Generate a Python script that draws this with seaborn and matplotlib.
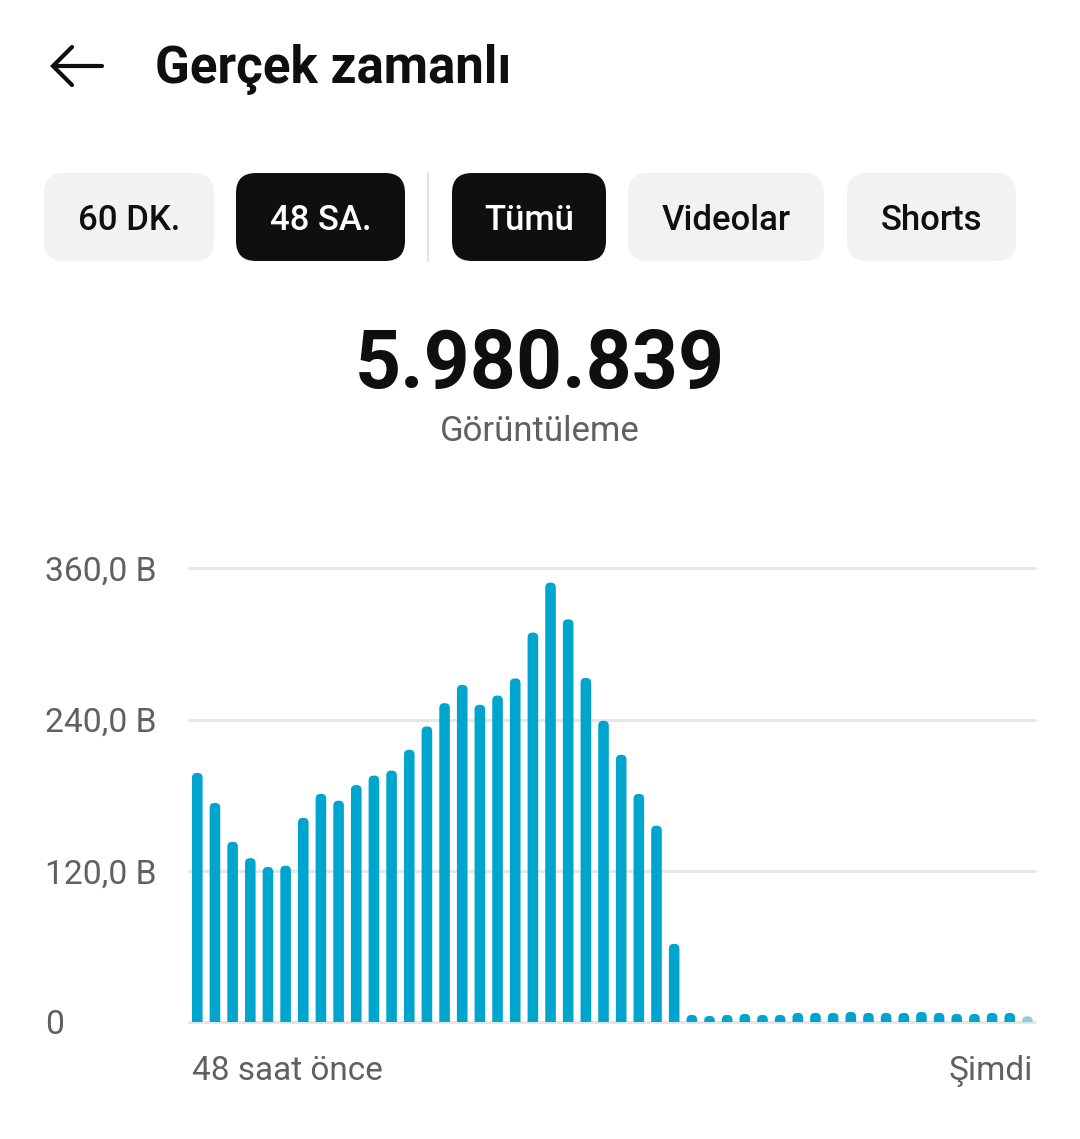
import matplotlib
matplotlib.use("Agg")
import matplotlib.pyplot as plt
import seaborn as sns
import pandas as pd
from matplotlib.patches import FancyBboxPatch

# ---------------- data ----------------
hours = list(range(-48, 0))  # hour slots, oldest first
views_k = [197.6, 173.8, 143.0, 130.0, 123.0, 124.0, 162.0, 181.0, 175.6, 188.0,
           195.5, 199.5, 216.0, 234.5, 253.0, 267.5, 251.7, 259.0, 272.6, 309.0,
           348.6, 319.5, 273.0, 239.0, 212.0, 181.0, 155.8, 62.0,
           5.6, 4.8, 5.6, 6.4, 5.6, 5.6, 7.2, 7.2, 7.2, 8.0,
           7.2, 7.2, 7.2, 8.0, 7.2, 6.4, 6.4, 7.2, 7.2, 4.5]
bar_colors = ["#00A5CD"] * 47 + ["#8FCCDD"]   # current (incomplete) hour is lighter
y_ticks = [0, 120, 240, 360]
y_tick_labels = ["0", "120,0 B", "240,0 B", "360,0 B"]
x_edge_labels = ["48 saat önce", "Şimdi"]
title_text = "Gerçek zamanlı"
buttons = ["60 DK.", "48 SA.", "Tümü", "Videolar", "Shorts"]
buttons_active = [False, True, True, False, False]
total_views = "5.980.839"
total_label = "Görüntüleme"

# ---------------- style ----------------
sns.set_theme(style="white")
plt.rcParams["font.family"] = ["Roboto", "DejaVu Sans"]

W, H = 1080, 1139
fig = plt.figure(figsize=(W / 100, H / 100), dpi=100)
fig.patch.set_facecolor("white")

DARK = "#0F0F0F"
GREY = "#606060"

# overlay in pixel coordinates for the app header
deco = fig.add_axes([0, 0, 1, 1])
deco.set_xlim(0, W)
deco.set_ylim(H, 0)
deco.axis("off")

# back arrow
deco.plot([54, 102], [66, 66], color=DARK, lw=3.0, solid_capstyle="round")
deco.plot([72, 53, 72], [47, 66, 85], color=DARK, lw=3.0,
          solid_capstyle="round", solid_joinstyle="miter")
deco.text(155, 83, title_text, fontsize=36.8, fontweight="bold", color=DARK,
          ha="left", va="baseline")

# filter chips
chip_x = [(44, 214), (236, 405), (452, 606), (628, 824), (847, 1016)]
for label, (x0, x1), active in zip(buttons, chip_x, buttons_active):
    deco.add_patch(FancyBboxPatch((x0, 173), x1 - x0, 88,
                                  boxstyle="round,pad=0,rounding_size=20",
                                  facecolor=DARK if active else "#F2F2F2",
                                  edgecolor="none"))
    deco.text((x0 + x1) / 2, 230, label, fontsize=25, fontweight="medium",
              color="white" if active else DARK, ha="center", va="baseline")
deco.plot([428, 428], [173, 261], color="#E3E3E3", lw=1.5)

# total
deco.text(540, 388, total_views, fontsize=58, fontweight="bold", color=DARK,
          ha="center", va="baseline")
deco.text(540, 441, total_label, fontsize=25, color=GREY,
          ha="center", va="baseline")

# ---------------- chart ----------------
ax = fig.add_axes([189 / W, (H - 1022) / H, 846 / W, 466.3 / H])
df = pd.DataFrame({"hour": hours, "views": views_k})
sns.barplot(data=df, x="hour", y="views", hue="hour",
            palette=dict(zip(hours, bar_colors)), width=0.6, saturation=1,
            legend=False, ax=ax)
ax.set_xlim(-0.47, 47.43)
ax.set_ylim(0, 370)

# rounded bar tops
p0 = ax.transData.transform((0, 0))
p1 = ax.transData.transform((1, 1))
px_x = p1[0] - p0[0]
px_y = p1[1] - p0[1]
r_px = 4.8
rx, ry = r_px / px_x, r_px / px_y
for bar in list(ax.patches):
    x0, w, h = bar.get_x(), bar.get_width(), bar.get_height()
    rb = FancyBboxPatch((x0, -ry), w, h + ry,
                        boxstyle=f"round,pad=0,rounding_size={rx}",
                        mutation_aspect=ry / rx,
                        facecolor=bar.get_facecolor(), edgecolor="none", zorder=3)
    ax.add_patch(rb)
    bar.remove()

for v in y_ticks:
    ax.axhline(v, color="#E6E6E6", lw=2.2, zorder=0, clip_on=False)

for s in ax.spines.values():
    s.set_visible(False)
ax.set_facecolor("none")
ax.set_xlabel("")
ax.set_ylabel("")

ax.set_yticks(y_ticks, y_tick_labels)
ax.tick_params(axis="y", length=0, pad=(189 - 45) * 0.72, labelsize=24.2,
               labelcolor=GREY)
for lab in ax.get_yticklabels():
    lab.set_ha("left")

ax.set_xticks([-0.3, 47.3], x_edge_labels)
ax.tick_params(axis="x", length=0, pad=24, labelsize=24, labelcolor=GREY)
xl = ax.get_xticklabels()
xl[0].set_ha("left")
xl[1].set_ha("right")

fig.savefig("out.png", dpi=100, facecolor="white")
